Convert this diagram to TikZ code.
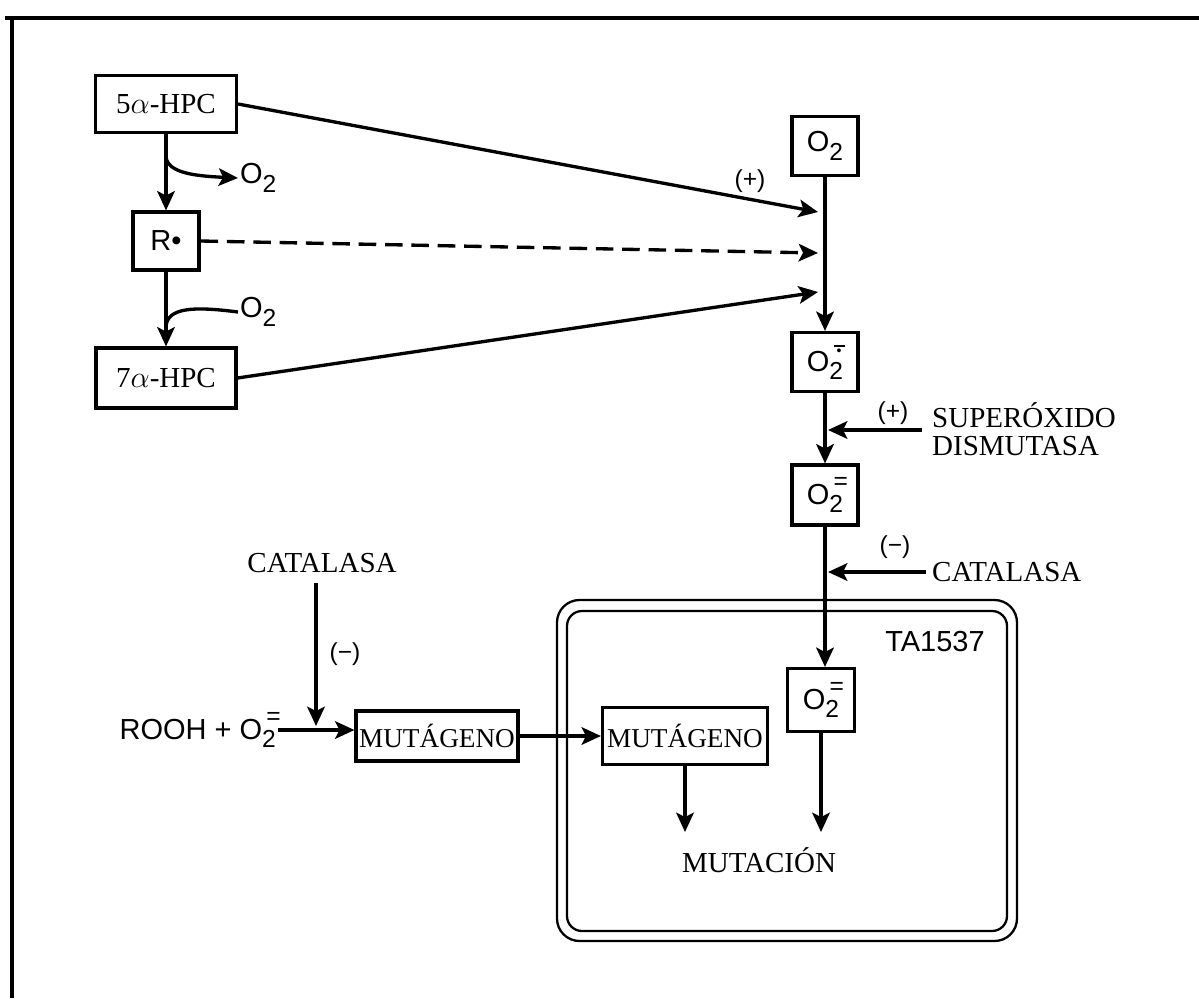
\documentclass[tikz,border=0pt]{standalone}
\usepackage{fontspec}
\setmainfont{Liberation Serif}
\setsansfont{Liberation Sans}
\usetikzlibrary{arrows.meta}
\newcommand{\Otwo}{O\raisebox{-0.55ex}{\fontsize{14}{14}\selectfont 2}}
\newcommand{\Oxy}[1]{O\rlap{\raisebox{0.95ex}{\fontsize{14}{14}\selectfont\,#1}}\raisebox{-0.55ex}{\fontsize{14}{14}\selectfont 2}\hspace{0.3em}}
\newcommand{\radsup}{\rlap{\rule[0.75ex]{0.45em}{1.3pt}}\makebox[0.45em]{\raisebox{0.05ex}{\fontsize{8}{8}\selectfont\textbullet}}}
\begin{document}
\begin{tikzpicture}[x=0.02cm,y=-0.02cm,
  serif/.style={font=\fontsize{16.5}{19}\selectfont},
  sans/.style={font=\sffamily\fontsize{16.5}{19}\selectfont},
  lbl/.style={font=\sffamily\fontsize{14}{16}\selectfont, inner sep=1pt},
  box/.style={draw, line width=1.8pt, inner sep=0pt},
  mutbox/.style={box, font=\fontsize{15.5}{18}\selectfont},
  arr/.style={-{Stealth[length=11pt,width=10pt,inset=2.5pt]}, line width=1.9pt},
  plain/.style={line width=1.9pt},
  cellline/.style={line width=1.3pt}]
\useasboundingbox (0,0) rectangle (1199,998);
% outer frame
\draw[line width=2pt] (5,18) -- (1199,18);
\draw[line width=2pt] (12,18) -- (12,998);

% left chain
\node[box, serif, minimum width=2.82cm, minimum height=1.14cm] (h5) at (166,104) {5$\alpha$-HPC};
\node[box, sans, minimum width=1.32cm, minimum height=1.16cm] (r) at (166,241) {R\textbullet};
\node[box, serif, minimum width=2.8cm, minimum height=1.2cm] (h7) at (166,378) {7$\alpha$-HPC};
\draw[arr] (h5.south) -- (r.north);
\draw[arr] (r.south) -- (h7.north);

\node[sans, anchor=west, inner sep=1pt] (x1) at (238,178) {\Otwo};
\coordinate (b1) at (166,157);
\draw[arr] (b1) .. controls (168,173) and (195,176) .. (x1.west);

\node[sans, anchor=west, inner sep=1pt] (x2) at (238,312) {\Otwo};
\coordinate (b2) at (166,326);
\draw[plain] (x2.west) .. controls (192,306) and (168,308) .. (b2);

% right column
\node[box, sans, minimum width=1.32cm, minimum height=1.18cm] (oa) at (825,146) {\Otwo};
\node[box, sans, minimum width=1.32cm, minimum height=1.18cm] (ob) at (825,362) {\Oxy{\radsup}};
\node[box, sans, minimum width=1.32cm, minimum height=1.2cm] (oc) at (825,495) {\Oxy{=}};

\coordinate (j1) at (818,212);
\coordinate (j2) at (818,253);
\coordinate (j3) at (818,292);
\draw[arr] (h5.east) -- (j1);
\node[lbl] at (750,181) {(+)};
\draw[arr, dash pattern=on 10pt off 5pt] (r.east) -- (j2);
\draw[arr] (h7.east) -- (j3);
\draw[arr] (oa.south) -- (ob.north);

% superoxido dismutasa
\node[serif, anchor=west] (sod1) at (926,415) {SUPERÓXIDO};
\node[serif, anchor=west] (sod2) at (926,446) {DISMUTASA};
\coordinate (s0) at (922,430);
\coordinate (s1) at (828,430);
\draw[arr] (s0) -- (s1);
\node[lbl] at (893,413) {(+)};
\draw[arr] (ob.south) -- (oc.north);

% catalasa right
\node[serif, anchor=west] (cat1) at (926,572) {CATALASA};
\coordinate (c1) at (828,570);
\draw[arr] (cat1.west) -- (c1 |- cat1.west);
\node[lbl] at (895,547) {(−)};

% cell
\draw[cellline, rounded corners=0.45cm] (557,600) rectangle (1017,941);
\draw[cellline, rounded corners=0.3cm] (567,611) rectangle (1007,931);
\node[sans] (ta) at (935,642) {TA1537};

\node[box, sans, minimum width=1.34cm, minimum height=1.26cm] (od) at (821,700) {\Oxy{=}};
\draw[arr] (oc.south) -- (oc.south |- od.north);

\node[serif] (mutn) at (759,860) {MUTACIÓN};
\coordinate (t1) at (821,832);
\coordinate (t2) at (685,832);
\draw[arr] (od.south) -- (t1);
\node[mutbox, minimum width=3.3cm, minimum height=1.14cm] (m2) at (685,736) {MUTÁGENO};
\draw[arr] (m2.south) -- (t2);
\node[mutbox, minimum width=3.24cm, minimum height=1.0cm] (m1) at (437,736) {MUTÁGENO};
\draw[arr] (m1.east) -- (m2.west);

% left bottom
\node[sans, anchor=east, inner sep=1pt] (rooh) at (278,730) {ROOH + \Oxy{=}};
\draw[arr] (rooh.east) -- (m1.west |- rooh.east);
\node[serif] (cat2) at (322,563) {CATALASA};
\coordinate (k1) at (316,583);
\coordinate (k2) at (316,726);
\draw[arr] (k1) -- (k2);
\node[lbl] at (345,654) {(−)};
\end{tikzpicture}
\end{document}
